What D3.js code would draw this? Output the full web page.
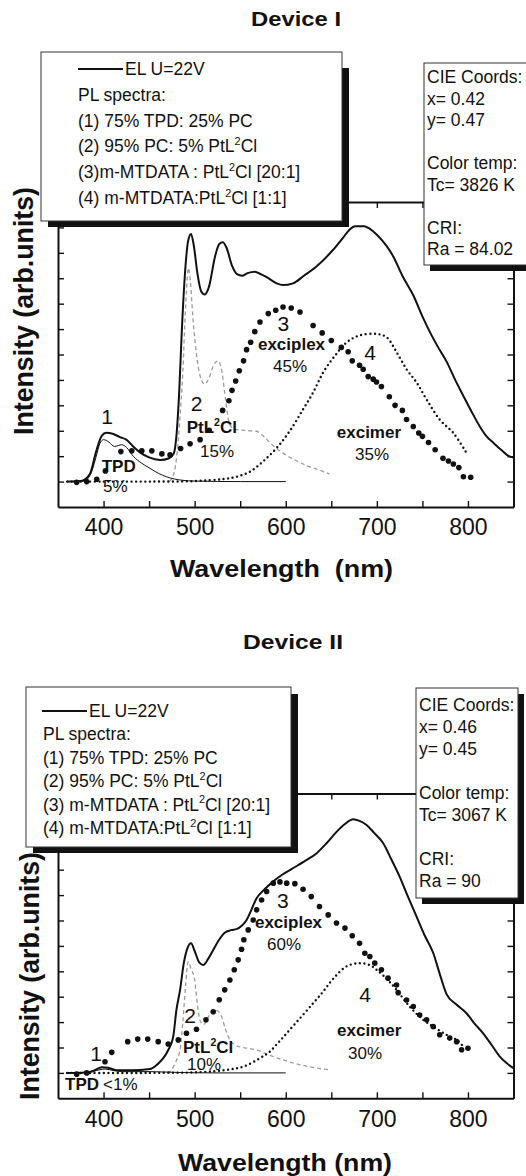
<!DOCTYPE html>
<html><head><meta charset="utf-8">
<script src="https://cdn.jsdelivr.net/npm/d3@7"></script>
<style>
body{margin:0;background:#fff}
svg{display:block}
text{font-family:"Liberation Sans",Arial,Helvetica,sans-serif;fill:#111}
</style>
</head><body>
<svg id="c" width="526" height="1176"></svg>
<script>
// ---------------- DATA ----------------
const xTickValues = [400, 450, 500, 550, 600, 650, 700, 750, 800];
const xTickLabels = ["400", "500", "600", "700", "800"];
const yTickValues = [0, 1, 2, 3, 4, 5, 6, 7, 8, 9, 10];

// Device I  ([wavelength nm, intensity arb.])
const dev1EL = [[360,0],[375,0.02],[385,0.3],[392,1.2],[398,1.8],[403,1.92],[410,1.88],[418,1.75],[425,1.65],[432,1.4],[440,1.15],[450,0.95],[462,0.85],[472,0.92],[477,1.1],[480,1.8],[483,3.5],[486,6],[490,8.5],[493,9.5],[496,9.74],[499,9.3],[503,8.2],[507,7.5],[511,7.36],[516,7.7],[522,8.8],[527,9.35],[531,9.42],[535,9.2],[541,8.5],[547,8.15],[552,8.1],[558,8.2],[566,8.26],[573,8.15],[580,8.02],[590,7.8],[597,7.73],[608,7.8],[620,8.1],[634,8.47],[652,9.12],[663,9.6],[670,9.91],[676,10.05],[686,10.05],[692,9.95],[700,9.71],[710,9.3],[718,8.86],[728,8.1],[740,7.33],[750,6.5],[758,5.9],[767,5.3],[777,4.69],[786,4.0],[795,3.37],[804,2.75],[813,2.17],[820,1.8],[828,1.52],[838,1.2],[845,1.0],[850,0.95]];
const dev1PL1 = [[360,0],[378,0.02],[386,0.3],[392,1.0],[396,1.5],[400,1.65],[406,1.55],[412,1.38],[416,1.42],[420,1.45],[425,1.35],[433,0.98],[442,0.72],[451,0.52],[460,0.33],[469,0.19],[478,0.1],[487,0.05],[500,0.02],[550,0],[600,0]];
const dev1PL2 = [[472,0],[477,0.3],[481,1.2],[484,2.6],[487,4.3],[489,6],[491,7.5],[493,8.4],[495,8.0],[498,6.5],[502,5.0],[506,4.16],[511,3.83],[516,4.1],[521,4.6],[526,4.75],[530,4.3],[534,3.2],[538,2.3],[544,2.05],[550,2.03],[560,2.0],[568,1.98],[575,1.8],[585,1.45],[597,1.12],[610,0.85],[625,0.6],[637,0.45],[648,0.3]];
const dev1PL3 = [[370.5,-0.03],[381.5,0],[392.5,0.09],[402,0.42],[419,1.18],[431,1.21],[442,1.21],[453,1.21],[464,1.09],[473,1.05],[484.6,1.3],[495,1.49],[506,1.65],[516,2.02],[530.7,2.8],[537.6,3.18],[541,3.59],[545,3.96],[549,4.36],[553.7,4.75],[557,5.19],[561.5,5.48],[566,5.9],[571.7,6.28],[580.8,6.61],[589,6.74],[597,6.87],[606,6.83],[615.6,6.67],[630,6.14],[640,5.85],[650,5.55],[661,5.28],[668.5,5.11],[673,4.75],[681,4.58],[685,4.42],[690.5,4.13],[696,4.03],[699.6,3.92],[705,3.74],[713.7,3.34],[720,3.0],[728,2.8],[732.6,2.44],[740,2.17],[746,1.91],[750,1.78],[756.7,1.54],[764,1.25],[772.6,0.92],[778.6,0.81],[784,0.69],[790,0.55],[795,0.19],[803,0.17]];
const dev1PL4 = [[360,0],[400,0],[450,0],[500,0.02],[531,0.1],[546,0.19],[560.7,0.39],[575,0.79],[590,1.32],[604.6,2.0],[619,2.84],[630,3.5],[641,4.29],[654,4.95],[667,5.48],[681,5.75],[699.7,5.81],[710.7,5.68],[721.7,5.09],[732.6,4.42],[743.6,3.9],[754.6,3.23],[769,2.44],[784,1.91],[798.5,1.12]];
const dev1Legend = ["EL U=22V", "PL spectra:", "(1) 75% TPD: 25% PC", "(2) 95% PC: 5% PtL²Cl", "(3)m-MTDATA : PtL²Cl [20:1]", "(4) m-MTDATA:PtL²Cl [1:1]"];
const dev1CIE = ["CIE Coords:", "x= 0.42", "y= 0.47", "", "Color temp:", "Tc= 3826 K", "", "CRI:", "Ra = 84.02"];
const dev1Notes = ["1", "TPD", "5%", "2", "PtL²Cl", "15%", "3", "exciplex", "45%", "4", "excimer", "35%"];

// Device II
const dev2EL = [[360,0],[380,0.02],[390,0.1],[398,0.22],[405,0.2],[415,0.1],[430,0.1],[451,0.15],[458,0.3],[462,0.44],[467,0.65],[471,0.9],[476.5,1.43],[480,2.48],[484,3.27],[488,4.3],[492,4.9],[496,5.1],[500,4.8],[505,4.35],[509.5,4.25],[515,4.5],[520.4,4.84],[527,5.25],[533,5.52],[540,5.62],[546,5.66],[552,5.8],[557,6.02],[562,6.4],[568,6.88],[576,7.2],[586,7.53],[596,7.8],[608,8.06],[620,8.32],[634,8.65],[645,9.05],[656,9.5],[665,9.8],[674,9.99],[681,9.92],[688.7,9.76],[697,9.45],[707,9.04],[716,8.4],[725,7.73],[734,6.95],[743.6,6.15],[752,5.45],[762,4.71],[769,3.9],[776.5,3.1],[787,2.7],[798.4,2.35],[807,1.95],[816.7,1.56],[826,1.1],[835,0.64],[842,0.4],[850,0.19]];
const dev2PL1 = [[360,0],[385,0.02],[395,0.12],[402,0.15],[410,0.1],[420,0.05],[450,0.05],[480,0.02],[520,0],[600,0]];
const dev2PL2 = [[470,0],[476,0.2],[480,0.5],[484,0.9],[487,2.0],[490,3.4],[493,4.38],[496,4.1],[500,3.66],[503,2.7],[506,2.05],[510,1.9],[515,2.2],[520.4,2.48],[525,2.45],[529.5,2.22],[534,1.7],[538.7,1.3],[547.8,1.04],[558,0.97],[568,0.9],[582,0.7],[597,0.51],[615,0.33],[632,0.2],[648.5,0.12]];
const dev2PL3 = [[370.5,-0.05],[381.5,0],[401.6,0.44],[409,0.81],[426.5,1.23],[437.5,1.33],[448.5,1.33],[460,1.23],[471,1.14],[482,1.3],[491,1.56],[502,1.72],[512.4,2.09],[520.4,2.41],[527,2.88],[533,3.27],[538.7,3.66],[543.5,4.06],[547.8,4.45],[551.5,4.87],[554,5.24],[558.8,5.63],[564.3,6.02],[568,6.42],[573.5,6.81],[579,7.14],[586.3,7.47],[593.6,7.52],[601,7.47],[610,7.45],[619,7.23],[628,6.94],[637,6.55],[646.6,6.22],[655.7,5.9],[665,5.7],[673,5.4],[681,5.1],[686.8,4.71],[692.3,4.58],[697.7,4.32],[705,4.06],[712.3,3.73],[721.6,3.46],[723.4,3.16],[732.6,2.87],[740,2.61],[747,2.28],[754.6,2.09],[761.9,1.82],[769,1.5],[780,1.37],[787.6,1.23],[793,0.91],[800,0.97]];
const dev2PL4 = [[360,0],[450,0],[506,0.03],[535,0.12],[553.5,0.25],[571.6,0.58],[582.6,0.84],[592,1.2],[601,1.56],[615.6,2.15],[630,2.74],[641,3.2],[652.6,3.73],[667,4.2],[681,4.32],[692,4.25],[699.7,4.06],[712,3.66],[721.6,3.27],[736,2.61],[751,2.09],[762,1.82],[776.5,1.5],[787.6,1.3],[796.6,0.97]];
const dev2Legend = ["EL U=22V", "PL spectra:", "(1) 75% TPD: 25% PC", "(2) 95% PC: 5% PtL²Cl", "(3) m-MTDATA : PtL²Cl [20:1]", "(4) m-MTDATA:PtL²Cl [1:1]"];
const dev2CIE = ["CIE Coords:", "x= 0.46", "y= 0.45", "", "Color temp:", "Tc= 3067 K", "", "CRI:", "Ra = 90"];
const dev2Notes = ["1", "TPD", "<1%", "2", "PtL²Cl", "10%", "3", "exciplex", "60%", "4", "excimer", "30%"];

// ---------------- DRAW ----------------
const svg = d3.select("#c");
const FONT_S = 17.5;

function richText(g, str, x, y, size, weight, anchor) {
  const t = g.append("text").attr("x", x).attr("y", y)
    .attr("font-size", size).attr("font-weight", weight || "normal")
    .attr("text-anchor", anchor || "start");
  const parts = str.split("²");
  parts.forEach((p, i) => {
    if (i > 0) {
      t.append("tspan").attr("font-size", size * 0.62).attr("dy", -size * 0.42).text("2");
      t.append("tspan").attr("dy", size * 0.42).text(p);
    } else {
      t.append("tspan").text(p);
    }
  });
  return t;
}

function panel(cfg) {
  const x = d3.scaleLinear([350, 850], [58, 513.5]);
  const y = d3.scaleLinear([-1, 11], [cfg.yBottom, cfg.yTop]);
  const g = svg.append("g");

  // title
  g.append("text").attr("x", cfg.titleX).attr("y", cfg.titleY).attr("text-anchor", "middle")
    .attr("font-size", 19.5).attr("font-weight", "bold")
    .attr("textLength", cfg.titleW).attr("lengthAdjust", "spacingAndGlyphs").text(cfg.title);

  // axes
  const fmt = d => xTickLabels.includes(String(d)) ? String(d) : "";
  const axB = g.append("g").attr("transform", `translate(0,${cfg.yBottom})`)
    .call(d3.axisBottom(x).tickValues(xTickValues).tickSizeInner(-6).tickSizeOuter(0).tickPadding(12).tickFormat(fmt));
  const axT = g.append("g").attr("transform", `translate(0,${cfg.yTop})`)
    .call(d3.axisTop(x).tickValues(xTickValues).tickSizeInner(-6).tickSizeOuter(0).tickFormat(""));
  const axL = g.append("g").attr("transform", `translate(58,0)`)
    .call(d3.axisLeft(y).tickValues(yTickValues).tickSizeInner(-6).tickSizeOuter(0).tickFormat(""));
  const axR = g.append("g").attr("transform", `translate(513.5,0)`)
    .call(d3.axisRight(y).tickValues(yTickValues).tickSizeInner(-6).tickSizeOuter(0).tickFormat(""));
  [axB, axT, axL, axR].forEach(a => {
    a.select(".domain").attr("stroke", "#111").attr("stroke-width", 2);
    a.selectAll(".tick line").attr("stroke", "#111").attr("stroke-width", 1.4);
  });
  axB.selectAll(".tick text").attr("font-size", 23).attr("fill", "#111")
    .attr("font-family", '"Liberation Sans",Arial,sans-serif');

  // axis titles
  g.append("text").attr("x", cfg.xLabX).attr("y", cfg.xLabY).attr("text-anchor", "middle")
    .attr("font-size", 24).attr("font-weight", "bold")
    .attr("textLength", cfg.xLabW).attr("lengthAdjust", "spacingAndGlyphs")
    .attr("xml:space", "preserve").style("white-space", "pre").text(cfg.xLab);
  g.append("text").attr("transform", `translate(${cfg.yLabX},${cfg.yLabC}) rotate(-90)`)
    .attr("text-anchor", "middle").attr("font-size", 27).attr("font-weight", "bold")
    .attr("textLength", 248).attr("lengthAdjust", "spacingAndGlyphs")
    .text("Intensity (arb.units)");

  // curves
  const line = d3.line().x(d => x(d[0])).y(d => y(d[1])).curve(d3.curveMonotoneX);
  g.append("path").datum(cfg.pl2).attr("d", line).attr("fill", "none")
    .attr("stroke", "#9a9a9a").attr("stroke-width", 1.3).attr("stroke-dasharray", "4,3");
  g.append("path").datum(cfg.pl4).attr("d", d3.line().x(d => x(d[0])).y(d => y(d[1])).curve(d3.curveCatmullRom))
    .attr("fill", "none").attr("stroke", "#111").attr("stroke-width", 2.4)
    .attr("stroke-linecap", "round").attr("stroke-dasharray", "0,4.6");
  g.append("path").datum(cfg.pl1).attr("d", line).attr("fill", "none")
    .attr("stroke", "#111").attr("stroke-width", 1);
  g.append("path").datum(cfg.el).attr("d", line).attr("fill", "none")
    .attr("stroke", "#111").attr("stroke-width", 2);
  g.append("g").selectAll("circle").data(cfg.pl3).join("circle")
    .attr("cx", d => x(d[0])).attr("cy", d => y(d[1])).attr("r", 2.8).attr("fill", "#111");

  // annotations
  cfg.notePos.forEach((p, i) => {
    const txt = cfg.notes[i];
    richText(g, txt, x(p[0]), y(p[1]), p[2], p[3] ? "bold" : "normal", p[4] || "start");
  });

  // legend box
  const L = cfg.leg;
  g.append("rect").attr("x", L.x + 7).attr("y", L.y + L.sy).attr("width", L.w).attr("height", L.h - L.sy + 6).attr("fill", "#111");
  g.append("rect").attr("x", L.x).attr("y", L.y).attr("width", L.w).attr("height", L.h)
    .attr("fill", "#fff").attr("stroke", "#333").attr("stroke-width", 1);
  g.append("line").attr("x1", L.lx1).attr("x2", L.lx2).attr("y1", L.b0 - 6).attr("y2", L.b0 - 6)
    .attr("stroke", "#111").attr("stroke-width", 2);
  cfg.legend.forEach((s, i) => {
    richText(g, s, i === 0 ? L.lx2 + 2 : L.tx, L.b0 + i * L.dy, FONT_S, "normal");
  });

  // CIE box
  const C = cfg.cie;
  g.append("rect").attr("x", C.x + 6).attr("y", C.y + 6).attr("width", C.w).attr("height", C.h).attr("fill", "#111");
  g.append("rect").attr("x", C.x).attr("y", C.y).attr("width", C.w).attr("height", C.h)
    .attr("fill", "#fff").attr("stroke", "#333").attr("stroke-width", 1);
  cfg.cieText.forEach((s, i) => {
    if (s) richText(g, s, C.x + 3, C.b0 + i * C.dy, FONT_S, "normal");
  });
}

panel({
  title: "Device I", titleX: 296, titleY: 26, titleW: 90,
  yTop: 202, yBottom: 507,
  xLab: "Wavelength  (nm)", xLabX: 281.5, xLabY: 577, xLabW: 223,
  yLabX: 33, yLabC: 311,
  el: dev1EL, pl1: dev1PL1, pl2: dev1PL2, pl3: dev1PL3, pl4: dev1PL4,
  notes: dev1Notes,
  notePos: [[404, 2.27, 21, 0, "middle"], [398, 0.39, 17, 1], [399.4, -0.41, 17, 0],
            [502.2, 2.78, 21, 0, "middle"], [491.3, 1.91, 17, 1], [505.9, 0.97, 17, 0],
            [597.3, 5.92, 21, 0, "middle"], [569.5, 5.18, 17, 1], [586, 4.32, 17, 0],
            [692.5, 4.8, 21, 0, "middle"], [656, 1.72, 17, 1], [676, 0.85, 17, 0]],
  legend: dev1Legend,
  leg: {x: 41, y: 52, w: 301, h: 169, sy: 16, lx1: 78, lx2: 123, tx: 78, b0: 75, dy: 25.8},
  cieText: dev1CIE,
  cie: {x: 424, y: 63, w: 130, h: 202, b0: 83, dy: 21.5}
});

panel({
  title: "Device II", titleX: 293, titleY: 649, titleW: 100,
  yTop: 793.5, yBottom: 1098.3,
  xLab: "Wavelength (nm)", xLabX: 285, xLabY: 1171, xLabW: 214,
  yLabX: 39, yLabC: 976,
  el: dev2EL, pl1: dev2PL1, pl2: dev2PL2, pl3: dev2PL3, pl4: dev2PL4,
  notes: dev2Notes,
  notePos: [[391.7, 0.47, 21, 0, "middle"], [357.7, -0.67, 17, 1], [399.4, -0.67, 17, 0],
            [494.9, 1.96, 21, 0, "middle"], [487.2, 0.78, 17, 1], [491.6, 0.11, 17, 0],
            [596.7, 6.49, 21, 0, "middle"], [566.2, 5.7, 17, 1], [579.4, 4.84, 17, 0],
            [687, 2.79, 21, 0, "middle"], [656.3, 1.45, 17, 1], [668.3, 0.55, 17, 0]],
  legend: dev2Legend,
  leg: {x: 26, y: 687, w: 265, h: 160, sy: 7, lx1: 42, lx2: 87, tx: 43, b0: 717, dy: 23.4},
  cieText: dev2CIE,
  cie: {x: 416, y: 688, w: 102, h: 210, b0: 711, dy: 22}
});
</script>
</body></html>
